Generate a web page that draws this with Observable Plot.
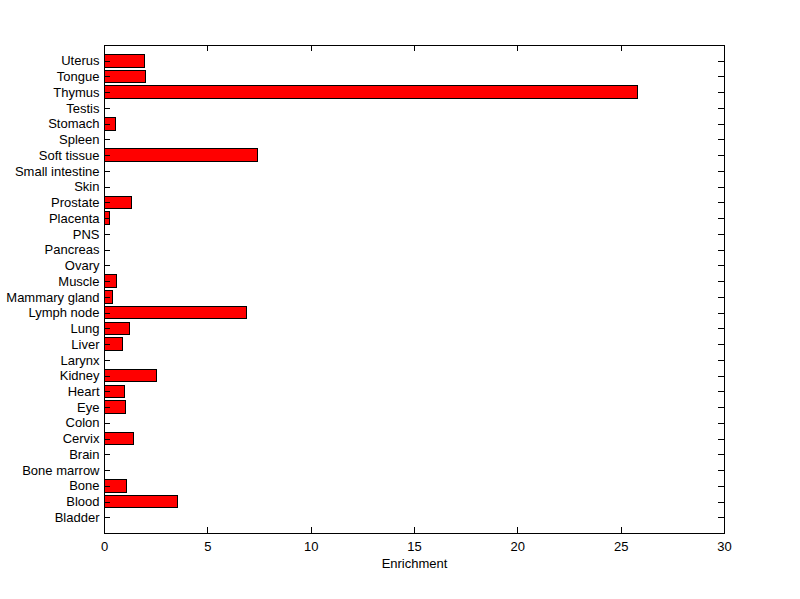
<!DOCTYPE html>
<html>
<head>
<meta charset="utf-8">
<script src="https://cdn.jsdelivr.net/npm/d3@7"></script>
<script src="https://cdn.jsdelivr.net/npm/@observablehq/plot@0.6"></script>
<style>
  html, body { margin: 0; padding: 0; background: white; }
</style>
</head>
<body>
<div id="chart"></div>
<script>
const tissues = ["Bladder", "Blood", "Bone", "Bone marrow", "Brain", "Cervix", "Colon", "Eye", "Heart", "Kidney",
  "Larynx", "Liver", "Lung", "Lymph node", "Mammary gland", "Muscle", "Ovary", "Pancreas", "PNS", "Placenta",
  "Prostate", "Skin", "Small intestine", "Soft tissue", "Spleen", "Stomach", "Testis", "Thymus", "Tongue", "Uterus"];
const enrichment = [0, 3.55, 1.1, 0, 0, 1.44, 0, 1.05, 0.98, 2.55,
  0, 0.89, 1.23, 6.9, 0.4, 0.6, 0, 0, 0, 0.27,
  1.34, 0, 0, 7.43, 0, 0.55, 0, 25.8, 2.02, 1.95];
const xTicks = [0, 5, 10, 15, 20, 25, 30];
const innerTicks = [5, 10, 15, 20, 25];
const xLabel = "Enrichment";

const data = tissues.map((t, i) => ({tissue: t, value: enrichment[i]}));

const W = 800, H = 599;
const mL = 104, mR = 76, mT = 45, mB = 66;
const plotW = W - mL - mR, plotH = H - mT - mB;
const tickLen = 6;

const chart = Plot.plot({
  width: W,
  height: H,
  marginLeft: mL,
  marginRight: mR,
  marginTop: mT,
  marginBottom: mB,
  style: {fontFamily: "'Liberation Sans', Arial, sans-serif", fontSize: "13px", color: "black", background: "white"},
  x: {domain: [0, 30], ticks: xTicks},
  y: {domain: tissues.slice().reverse(), type: "band", paddingInner: 0.2, paddingOuter: 0.6, align: 0.5, round: false},
  marks: [
    Plot.barX(data, {x: "value", y: "tissue", fill: "#ff0000", stroke: "black", strokeWidth: 1, shapeRendering: "crispEdges"}),
    // inward x ticks (bottom and top)
    Plot.ruleX(innerTicks, {x: d => d, stroke: "black", insetTop: plotH - tickLen, shapeRendering: "crispEdges"}),
    Plot.ruleX(innerTicks, {x: d => d, stroke: "black", insetBottom: plotH - tickLen, shapeRendering: "crispEdges"}),
    // inward y ticks (left and right)
    Plot.ruleY(tissues, {y: d => d, stroke: "black", insetRight: plotW - tickLen, shapeRendering: "crispEdges"}),
    Plot.ruleY(tissues, {y: d => d, stroke: "black", insetLeft: plotW - tickLen, shapeRendering: "crispEdges"}),
    Plot.frame({stroke: "black", shapeRendering: "crispEdges"}),
    Plot.axisX({ticks: xTicks, tickSize: 0, tickPadding: 8, label: null, fontSize: 13}),
    Plot.axisY({tickSize: 0, tickPadding: 5, label: null, fontSize: 13}),
    Plot.text([xLabel], {text: d => d, frameAnchor: "bottom", lineAnchor: "bottom", dy: 34, fontSize: 13, fill: "black"})
  ]
});
document.getElementById("chart").appendChild(chart);
</script>
</body>
</html>
